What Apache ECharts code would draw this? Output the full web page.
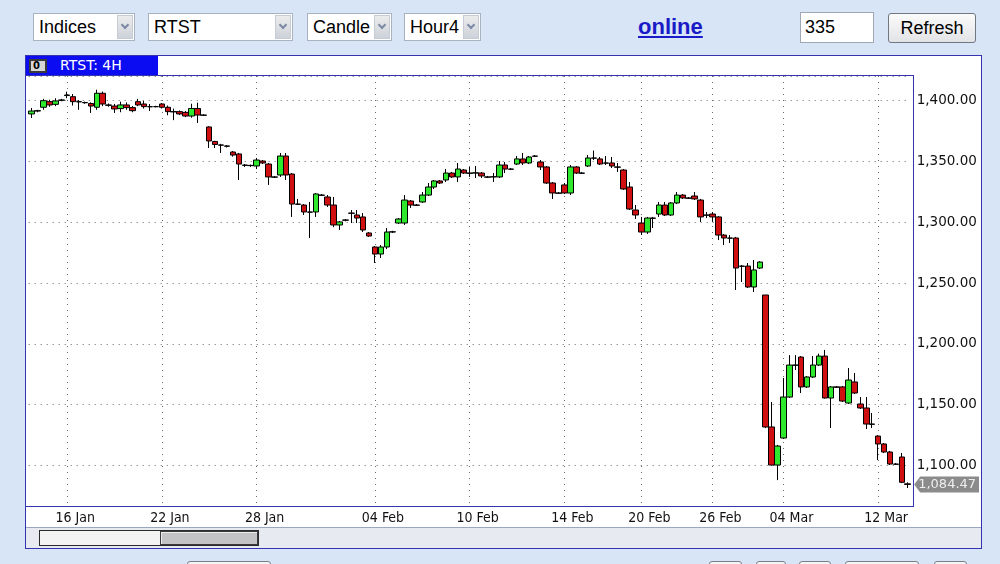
<!DOCTYPE html>
<html>
<head>
<meta charset="utf-8">
<script src="https://cdn.jsdelivr.net/npm/echarts@6/dist/echarts.min.js"></script>
<style>
html,body{margin:0;padding:0;width:1000px;height:564px;overflow:hidden;background:#d8e5f6;font-family:'Liberation Sans',Arial,sans-serif;}
.abs{position:absolute;box-sizing:border-box;}
.sel{top:13px;height:28px;background:#fff;border:1px solid #a9b3c0;font-size:18px;line-height:26px;padding-left:5px;color:#000;white-space:nowrap;}
.sel .arr{position:absolute;right:1px;top:1px;width:16px;height:24px;background:linear-gradient(#ececec,#cdd2da);border:1px solid #c6ccd6;box-sizing:border-box;}
.sel .arr:after{content:'';position:absolute;left:4px;top:6px;width:4px;height:4px;border-right:2px solid #7c8aa6;border-bottom:2px solid #7c8aa6;transform:rotate(45deg);}
.ln{background:#3434b0;}
.btm{top:561px;height:12px;border:1px solid #7a7f88;border-radius:3px;background:#f3f4f6;}
</style>
</head>
<body>
<!-- top controls -->
<div class="abs sel" style="left:33px;width:102px;">Indices<div class="arr"></div></div>
<div class="abs sel" style="left:148px;width:145px;">RTST<div class="arr"></div></div>
<div class="abs sel" style="left:307px;width:85px;">Candle<div class="arr"></div></div>
<div class="abs sel" style="left:404px;width:77px;">Hour4<div class="arr"></div></div>
<div class="abs" style="left:638px;top:14px;font-size:22px;font-weight:bold;color:#1a1ac8;text-decoration:underline;">online</div>
<div class="abs" style="left:800px;top:12px;width:74px;height:31px;background:#fff;border:1px solid #a0a8b4;font-size:18px;line-height:29px;padding-left:4px;">335</div>
<div class="abs" style="left:888px;top:13px;width:88px;height:30px;border:1px solid #707782;border-radius:3px;background:linear-gradient(#fbfbfb,#e2e3e6);font-size:18px;line-height:28px;text-align:center;">Refresh</div>

<!-- chart panel background -->
<div class="abs" style="left:25px;top:55px;width:957px;height:494px;background:#fff;border:1px solid #3434b0;"></div>
<div class="abs" style="left:26px;top:527px;width:955px;height:21px;background:#e7eaf1;border-top:1px solid #9aa6c4;"></div>

<div id="chart" class="abs" style="left:0;top:0;width:1000px;height:564px;z-index:1;"></div>

<!-- frame lines and overlays -->
<div class="abs ln" style="left:26px;top:75px;width:888px;height:1px;z-index:2;"></div>
<div class="abs ln" style="left:913px;top:75px;width:1px;height:432px;z-index:2;"></div>
<div class="abs ln" style="left:26px;top:506px;width:888px;height:1px;z-index:2;"></div>
<div class="abs" style="left:26px;top:56px;width:132px;height:19px;background:#0c0cf2;z-index:3;"></div>
<div class="abs" style="left:29px;top:59px;width:18px;height:14px;background:#d6d6d6;border:2px solid #3a3a3a;z-index:4;font:bold 10px 'DejaVu Sans',sans-serif;line-height:10px;padding-left:2px;color:#000;">0</div>
<div class="abs" style="left:60px;top:57px;z-index:4;color:#fff;font:14px 'DejaVu Sans',sans-serif;line-height:17px;">RTST: 4H</div>
<!-- scrollbar -->
<div class="abs" style="left:39px;top:530px;width:220px;height:16px;background:#f3f3f3;border:1px solid #2a2a2a;z-index:2;"></div>
<div class="abs" style="left:160px;top:531px;width:98px;height:14px;background:#c3c3c5;border:1px solid #3a3a3a;box-shadow:inset 1px 1px 0 #ececec;z-index:3;"></div>
<!-- partially visible bottom controls -->
<div class="abs btm" style="left:187px;width:84px;"></div>
<div class="abs btm" style="left:709px;width:33px;"></div>
<div class="abs btm" style="left:756px;width:30px;"></div>
<div class="abs btm" style="left:799px;width:32px;"></div>
<div class="abs btm" style="left:845px;width:74px;"></div>
<div class="abs btm" style="left:934px;width:33px;"></div>

<script>
// ---- data (RTS index, 4-hour candles) ----
const opens = [
1389.1,1391.5,1394.6,1399.2,1397.0,1400.3,1404.2,1403.3,1399.0,1398.5,
1397.7,1394.6,1406.1,1396.5,1395.6,1393.5,1396.5,1394.3,1399.2,1397.3,
1395.0,1395.1,1397.3,1394.6,1391.0,1391.0,1390.4,1387.4,1393.6,1388.2,
1378.4,1366.5,1363.6,1362.8,1357.8,1356.2,1347.1,1346.8,1346.3,1350.4,
1347.9,1337.3,1338.9,1354.5,1339.7,1315.0,1314.2,1308.5,1308.5,1322.4,
1320.8,1314.2,1297.8,1301.9,1307.6,1306.0,1304.4,1291.2,1279.7,1273.9,
1279.7,1292.0,1299.4,1299.4,1317.5,1314.2,1316.7,1322.4,1329.0,1334.0,
1334.8,1340.5,1337.3,1343.0,1340.5,1340.5,1340.5,1337.3,1337.3,1337.3,
1347.1,1343.8,1347.9,1352.1,1348.8,1354.5,1349.6,1345.5,1332.3,1324.1,
1330.7,1324.1,1345.5,1340.5,1346.3,1352.9,1352.1,1348.8,1348.8,1345.5,
1343.0,1329.0,1310.1,1299.4,1292.0,1303.5,1306.8,1314.2,1306.0,1315.9,
1322.4,1320.0,1321.6,1318.3,1306.0,1306.8,1304.4,1289.5,1287.1,1287.1,
1264.0,1264.0,1246.8,1262.4,1240.2,1131.7,1100.4,1122.6,1156.3,1182.6,
1189.2,1164.6,1172.8,1182.6,1190.0,1155.5,1164.6,1164.6,1151.4,1168.7,
1150.6,1147.3,1134.1,1124.2,1117.7,1111.1,1101.2,1107.0,1084.9
];
const closes = [
1391.5,1391.8,1400.0,1396.5,1399.8,1400.6,1404.7,1399.2,1399.2,1398.3,
1395.6,1406.1,1397.3,1396.2,1393.2,1396.5,1394.3,1391.8,1396.5,1395.1,
1395.1,1395.1,1394.6,1391.0,1390.8,1389.1,1387.4,1393.6,1388.2,1388.0,
1366.9,1364.0,1363.4,1362.5,1355.3,1347.9,1346.8,1346.6,1351.2,1348.8,
1337.3,1337.1,1354.5,1338.9,1315.0,1314.8,1308.5,1308.3,1323.3,1322.2,
1314.2,1297.8,1300.3,1301.7,1307.4,1303.5,1293.7,1288.7,1273.9,1279.7,
1292.0,1292.2,1302.7,1318.3,1314.2,1314.0,1322.4,1329.0,1334.0,1332.3,
1340.5,1337.3,1343.8,1340.5,1340.3,1340.7,1338.1,1337.1,1337.5,1347.1,
1343.8,1343.6,1352.1,1348.8,1353.7,1354.3,1345.5,1332.3,1324.1,1323.9,
1324.1,1345.5,1340.5,1340.3,1352.9,1352.7,1347.9,1348.6,1346.3,1345.3,
1327.4,1310.9,1306.0,1292.0,1303.5,1303.3,1314.2,1306.0,1315.9,1322.4,
1320.0,1319.8,1319.2,1304.4,1305.8,1304.4,1289.5,1287.1,1286.9,1262.4,
1263.8,1246.8,1260.8,1267.3,1131.7,1100.4,1116.0,1156.3,1182.6,1182.4,
1164.6,1172.8,1182.6,1190.0,1155.5,1164.6,1164.4,1153.0,1170.3,1159.6,
1147.3,1134.1,1133.9,1117.7,1111.1,1101.2,1101.0,1086.2,1084.47
];
const lows = [
1385.8,1390.5,1392.5,1395.0,1395.5,1399.5,1402.0,1396.0,1392.5,1397.5,
1389.9,1392.5,1395.5,1395.0,1389.9,1390.5,1392.5,1390.5,1395.5,1393.5,
1391.5,1394.5,1393.5,1388.0,1384.0,1388.2,1386.5,1386.0,1381.7,1387.4,
1361.1,1361.1,1357.0,1361.5,1354.0,1334.8,1345.5,1345.5,1343.8,1347.9,
1330.7,1336.4,1337.3,1334.8,1304.4,1314.2,1306.0,1287.1,1304.4,1321.6,
1312.6,1296.0,1293.7,1300.8,1299.4,1299.4,1292.0,1288.0,1266.5,1270.6,
1278.0,1291.2,1298.6,1297.8,1311.8,1313.4,1315.9,1321.6,1327.4,1331.5,
1333.1,1336.4,1333.1,1339.7,1337.3,1336.4,1336.4,1336.4,1333.1,1336.4,
1340.5,1343.0,1347.1,1347.1,1347.9,1353.7,1343.0,1331.5,1319.2,1323.3,
1323.3,1322.4,1339.7,1339.7,1345.5,1351.2,1347.1,1347.1,1344.6,1341.4,
1326.6,1310.1,1302.7,1289.5,1290.4,1295.3,1304.4,1305.2,1305.2,1315.0,
1319.2,1319.2,1318.3,1300.3,1303.5,1300.3,1285.4,1281.3,1283.0,1244.3,
1250.9,1246.0,1242.6,1261.6,1130.8,1100.0,1088.0,1121.8,1155.5,1178.5,
1159.6,1163.8,1172.0,1181.8,1155.0,1130.8,1163.8,1152.2,1150.6,1158.8,
1146.5,1130.0,1130.8,1104.5,1110.3,1100.4,1100.4,1085.5,1081.5
];
const highs = [
1394.0,1392.5,1401.5,1400.8,1402.0,1401.5,1407.4,1405.5,1400.5,1399.2,
1398.6,1409.0,1407.5,1397.7,1397.3,1399.2,1398.6,1395.6,1401.5,1399.8,
1397.3,1395.8,1398.1,1396.0,1393.5,1392.0,1391.5,1397.5,1398.4,1388.8,
1379.0,1367.0,1364.5,1363.5,1358.6,1357.0,1347.9,1347.5,1352.9,1351.2,
1348.8,1338.1,1357.0,1357.0,1340.5,1319.2,1315.0,1316.7,1324.1,1323.3,
1322.4,1320.8,1301.1,1302.7,1310.1,1310.1,1307.6,1292.0,1280.5,1281.3,
1295.3,1293.0,1303.5,1322.4,1318.3,1315.0,1324.9,1332.3,1334.8,1334.8,
1343.8,1341.4,1348.8,1343.8,1345.5,1346.3,1341.4,1338.1,1340.5,1350.4,
1349.6,1344.6,1354.5,1357.0,1354.5,1355.3,1351.2,1346.3,1333.1,1324.9,
1332.3,1347.1,1346.3,1341.4,1355.3,1359.0,1353.7,1354.5,1353.7,1348.8,
1343.8,1333.1,1314.2,1304.4,1304.4,1304.4,1316.7,1316.7,1316.7,1324.9,
1323.3,1320.8,1324.9,1319.2,1308.5,1308.5,1305.2,1290.4,1289.5,1288.0,
1264.9,1266.5,1269.0,1268.0,1240.2,1152.2,1117.0,1172.0,1190.8,1190.8,
1190.0,1173.6,1190.0,1192.0,1195.0,1165.4,1165.4,1165.4,1180.2,1176.1,
1156.3,1156.3,1143.2,1125.0,1118.5,1112.0,1102.0,1110.3,1086.2
];
// date tick labels and the candle (bar number) each one sits on
const dateLabels = ['16 Jan','22 Jan','28 Jan','04 Feb','10 Feb','14 Feb','20 Feb','26 Feb','04 Mar','12 Mar'];
const dateBars   = [6, 22, 38, 58, 74, 90, 103, 115, 127, 143];
const lastPrice  = 1084.47;

// ---- build ----
const bars = opens.map((_, i) => 'bar' + (i + 1));
const candles = opens.map((o, i) => [o, closes[i], lows[i], highs[i]]);
const labelAt = {};
dateBars.forEach((b, k) => { labelAt[b] = dateLabels[k]; });
const isDateBar = (idx) => labelAt[idx] !== undefined;
const fmt = (v) => Number(v).toLocaleString('en-US', {minimumFractionDigits: 2, maximumFractionDigits: 2});

const chart = echarts.init(document.getElementById('chart'), null, {renderer: 'canvas'});
const gridLeft = 28.7, gridTop = 76, gridWidth = 882, gridHeight = 430;
chart.setOption({
  animation: false,
  backgroundColor: 'transparent',
  grid: {left: gridLeft, top: gridTop, width: gridWidth, height: gridHeight, show: false},
  xAxis: {
    type: 'category',
    data: bars,
    boundaryGap: true,
    axisLine: {show: false},
    axisTick: {show: false},
    axisLabel: {
      interval: (idx) => isDateBar(idx),
      formatter: (val, idx) => labelAt[idx] || '',
      margin: 5,
      padding: [0, 0, 0, 16],
      color: '#111',
      fontSize: 14,
      fontFamily: "'DejaVu Sans Condensed','Liberation Sans Narrow','DejaVu Sans',sans-serif"
    },
    splitLine: {
      show: true,
      interval: (idx) => isDateBar(idx),
      alignWithLabel: true,
      lineStyle: {color: '#6a6a6a', width: 1, type: [1, 5]}
    }
  },
  yAxis: {
    type: 'value',
    position: 'right',
    min: 1066.7,
    max: 1420.3,
    splitNumber: 7,
    axisLine: {show: false},
    axisTick: {show: false},
    axisLabel: {
      showMinLabel: false,
      showMaxLabel: false,
      margin: 6,
      color: '#111',
      fontSize: 13.5,
      fontFamily: "'DejaVu Sans',sans-serif",
      formatter: (v) => fmt(v)
    },
    splitLine: {lineStyle: {color: '#6a6a6a', width: 1, type: [1, 5]}}
  },
  series: [{
    type: 'candlestick',
    data: candles,
    barWidth: 6,
    itemStyle: {
      color: '#2ee82e',
      color0: '#d01010',
      borderColor: '#000',
      borderColor0: '#000',
      borderColorDoji: '#000',
      borderWidth: 1
    }
  }]
});

// last-price tag on the right axis, positioned through the y scale
const yTag = chart.convertToPixel({yAxisIndex: 0}, lastPrice);
const tagL = gridLeft + gridWidth + 3.5, tagR = 979;
chart.setOption({
  graphic: [{
    type: 'polygon',
    z: 100,
    shape: {points: [[tagL, yTag], [tagL + 6, yTag - 8], [tagR, yTag - 8], [tagR, yTag + 8], [tagL + 6, yTag + 8]]},
    style: {fill: '#8b8b8b'}
  }, {
    type: 'text',
    z: 101,
    x: tagL + 4,
    y: yTag,
    style: {text: fmt(lastPrice), fill: '#eeeeee', font: "13px 'DejaVu Sans',sans-serif", verticalAlign: 'middle', align: 'left'}
  }]
});
</script>
</body>
</html>
